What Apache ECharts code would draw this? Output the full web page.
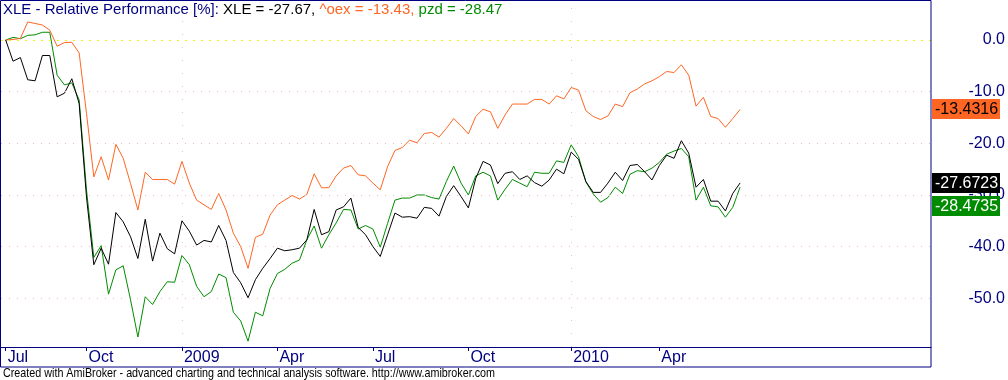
<!DOCTYPE html>
<html><head><meta charset="utf-8">
<script src="https://cdn.jsdelivr.net/npm/echarts@6/dist/echarts.min.js"></script>
<style>html,body{margin:0;padding:0;background:#fff}#c{width:1008px;height:380px}</style>
</head><body><div id="c"></div>
<script>
// weekly bars, first bar = week of 18 Jul 2008
const tickIndex = [0, 11, 24, 37, 50, 63, 77, 89];
const tickText = ['Jul', 'Oct', '2009', 'Apr', 'Jul', 'Oct', '2010', 'Apr'];
const yearTickIndex = [24, 77];
const yTicks = [-50, -40, -30, -20, -10, 0];

const xle = [0, -4.1, -3.4, -7.7, -7.9, -3.0, -3.0, -11.0, -10.3, -7.5,
  -12.3, -30.4, -43.5, -40.3, -43.4, -33.4, -35.2, -38.1, -42.3, -34.7,
  -42.8, -37.4, -40.4, -41.4, -35.0, -37.0, -39.7, -38.8, -39.1, -35.9,
  -38.8, -45.0, -47.0, -49.9, -46.4, -44.2, -42.3, -40.3, -40.8, -40.6,
  -40.3, -38.7, -32.8, -37.7, -37.1, -32.9, -32.3, -30.6, -36.3, -37.7,
  -40.0, -41.9, -37.7, -33.5, -34.3, -34.2, -34.5, -32.4, -32.6, -34.1,
  -30.3, -28.2, -30.3, -32.5, -26.8, -23.5, -24.2, -27.8, -25.8, -25.5,
  -27.0, -26.3, -27.6, -28.3, -27.1, -25.0, -25.9, -21.7, -23.1, -27.4,
  -29.5, -29.5, -27.7, -25.6, -27.2, -24.3, -24.1, -25.5, -27.1, -24.3,
  -22.3, -22.9, -19.5, -21.9, -28.5, -27.0, -31.2, -31.2, -33.1, -29.7,
  -27.6723];
const oex = [0, 0.1, 0.3, 3.5, 3.2, 2.9, 1.9, -1.2, -0.5, -0.45,
  -2.5, -14.2, -26.5, -22.6, -27.1, -20.2, -22.9, -27.8, -32.9, -25.6,
  -27.0, -27.0, -27.0, -27.9, -23.5, -27.7, -31.0, -31.9, -32.8, -29.7,
  -32.9, -37.4, -40.0, -44.2, -38.2, -37.6, -33.9, -31.9, -31.0, -30.1,
  -30.8, -29.9, -25.9, -28.6, -28.6, -26.3, -24.8, -24.3, -26.1, -26.3,
  -27.7, -29.0, -24.5, -21.4, -20.8, -19.4, -19.9, -18.1, -17.9, -18.8,
  -17.1, -15.2, -16.6, -18.2, -14.8, -13.4, -13.9, -17.1, -14.5, -12.4,
  -12.4, -12.4, -11.5, -11.5, -12.4, -10.8, -11.4, -9.2, -9.7, -13.7,
  -14.8, -15.4, -14.7, -12.4, -12.9, -10.2, -9.5, -8.5, -7.9, -7.1,
  -6.1, -6.3, -4.8, -6.8, -12.8, -11.1, -14.8, -15.2, -16.9, -15.2,
  -13.4316];
const pzd = [0, 0.5, 0.25, 0.9, 1.0, 1.5, 1.5, -6.8, -8.7, -8.3,
  -11.6, -29.0, -42.1, -39.8, -49.2, -44.5, -43.7, -50.3, -57.5, -49.7,
  -51.2, -48.7, -46.8, -46.9, -41.7, -43.5, -47.7, -49.7, -48.7, -45.3,
  -46.0, -52.7, -54.4, -58.3, -52.7, -53.4, -48.1, -45.2, -44.4, -43.2,
  -42.6, -38.7, -36.0, -40.3, -37.7, -35.4, -32.8, -32.9, -36.6, -35.9,
  -36.6, -40.1, -35.5, -31.0, -30.6, -30.6, -30.0, -30.0, -30.5, -30.8,
  -27.4, -24.4, -27.7, -30.0, -26.3, -25.6, -26.3, -31.0, -28.9, -27.0,
  -27.7, -28.4, -25.6, -25.8, -25.8, -23.4, -23.7, -20.3, -22.6, -27.5,
  -29.8, -31.4, -30.5, -28.5, -29.7, -26.0, -25.3, -25.5, -24.8, -23.7,
  -22.1, -21.5, -21.0, -22.6, -31.0, -28.5, -32.1, -32.3, -34.3, -32.4,
  -28.4735];

const NAVY = '#000080', ORANGE = '#ff6623', GREEN = '#008c00', BLACK = '#000000';
const FF = '"Liberation Sans", Arial, sans-serif';

const chart = echarts.init(document.getElementById('c'), null, {renderer: 'canvas'});
const last = a => a[a.length - 1];
const toPairs = a => a.map((v, i) => [i, v]);

const footerText = 'Created with AmiBroker - advanced charting and technical analysis software. http://www.amibroker.com';
const mctx = document.createElement('canvas').getContext('2d');
mctx.font = '13px "Liberation Sans"';
const footerScale = 492 / mctx.measureText(footerText).width;

const option = {
  animation: false,
  backgroundColor: '#ffffff',
  title: {
    text: '{a|XLE - Relative Performance [%]: }{b|XLE = ' + last(xle).toFixed(2) + ', }{c|^oex = ' + last(oex).toFixed(2) + ', }{d|pzd = ' + last(pzd).toFixed(2) + '}',
    left: 3, top: 2, padding: 0,
    textStyle: {
      fontFamily: FF, fontSize: 15, fontWeight: 'normal',
      rich: {
        a: {color: NAVY, fontFamily: FF, fontSize: 15},
        b: {color: BLACK, fontFamily: FF, fontSize: 15},
        c: {color: ORANGE, fontFamily: FF, fontSize: 15},
        d: {color: GREEN, fontFamily: FF, fontSize: 15}
      }
    },
    z: 20
  },
  grid: {left: 1, right: 77, top: 1, bottom: 33, containLabel: false},
  xAxis: {
    type: 'value', min: -0.64, max: 125.99,
    axisLine: {show: true, onZero: false, lineStyle: {color: NAVY, width: 1}},
    axisTick: {show: true, customValues: tickIndex, length: 4, inside: false, lineStyle: {color: NAVY}},
    axisLabel: {
      customValues: tickIndex,
      formatter: v => tickText[tickIndex.indexOf(Math.round(v))],
      color: NAVY, fontFamily: FF, fontSize: 16, align: 'left', margin: 3, padding: [0, 0, 0, 2]
    },
    splitLine: {show: false}
  },
  yAxis: {
    type: 'value', position: 'right', min: -59.43, max: 7.55,
    axisLine: {show: false}, axisTick: {show: false}, splitLine: {show: false},
    axisLabel: {
      customValues: yTicks,
      formatter: v => v.toFixed(1),
      color: NAVY, fontFamily: FF, fontSize: 16, align: 'right', margin: 74
    }
  },
  series: [
    {type: 'line', data: [], silent: true, z: 1,
      markLine: {silent: true, symbol: 'none', animation: false, label: {show: false},
        lineStyle: {color: '#eebcbc', type: [1, 7], width: 1},
        data: yTicks.filter(v => v !== 0).map(v => ({yAxis: v}))}},
    {type: 'line', data: [], silent: true, z: 1,
      markLine: {silent: true, symbol: 'none', animation: false, label: {show: false},
        lineStyle: {color: '#f2f200', type: [2, 6], width: 1},
        data: [{yAxis: 0}]}},
    {type: 'line', data: [], silent: true, z: 1,
      markLine: {silent: true, symbol: 'none', animation: false, label: {show: false},
        lineStyle: {color: '#cfcfcf', type: [1, 12], width: 1},
        data: yearTickIndex.map(i => ({xAxis: i}))}},
    {name: 'pzd', type: 'line', data: toPairs(pzd), showSymbol: false, lineStyle: {color: GREEN, width: 1}, itemStyle: {color: GREEN}, z: 3},
    {name: '^oex', type: 'line', data: toPairs(oex), showSymbol: false, lineStyle: {color: ORANGE, width: 1}, itemStyle: {color: ORANGE}, z: 3},
    {name: 'XLE', type: 'line', data: toPairs(xle), showSymbol: false, lineStyle: {color: BLACK, width: 1}, itemStyle: {color: BLACK}, z: 4}
  ],
  graphic: [
    {id: 'frame', type: 'rect', shape: {x: 0.5, y: 0.5, width: 930.5, height: 366.5}, style: {fill: null, stroke: NAVY, lineWidth: 1}, z: 50, silent: true},
    {id: 'footer', type: 'text', x: 3, y: 373.5, scaleX: footerScale, style: {text: footerText, font: '13px "Liberation Sans"', fill: '#000000', verticalAlign: 'middle', align: 'left'}, silent: true}
  ]
};
chart.setOption(option);

// value boxes on the right edge
const boxes = [
  {v: last(oex), bg: ORANGE, fg: '#000000'},
  {v: last(xle), bg: BLACK, fg: '#ffffff'},
  {v: last(pzd), bg: GREEN, fg: '#ffffff'}
].map(b => Object.assign(b, {cy: chart.convertToPixel({yAxisIndex: 0}, b.v)}))
 .sort((a, b) => a.cy - b.cy);
const H = 20;
let prevBottom = -1e9;
const boxGraphics = [];
boxes.forEach((b, k) => {
  let top = b.cy - H / 2;
  if (top < prevBottom + 3) top = prevBottom + 3;
  prevBottom = top + H;
  boxGraphics.push({id: 'box' + k, type: 'rect', shape: {x: 932, y: Math.round(top), width: 68, height: H}, style: {fill: b.bg}, z: 60, silent: true});
  boxGraphics.push({id: 'boxt' + k, type: 'text', x: 935, y: Math.round(top) + H / 2 + 0.5, style: {text: b.v.toFixed(4), font: '16px "Liberation Sans"', fill: b.fg, verticalAlign: 'middle', align: 'left'}, z: 61, silent: true});
});
chart.setOption({graphic: boxGraphics});
</script>
</body></html>
